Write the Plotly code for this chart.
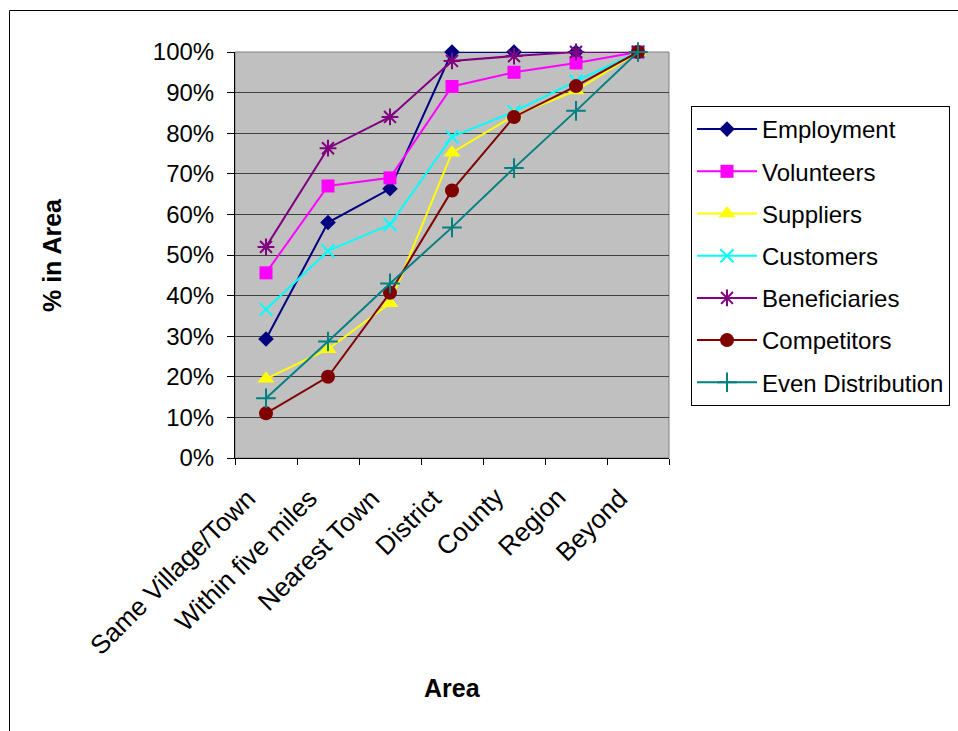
import plotly.graph_objects as go

areas = ["Same Village/Town", "Within five miles", "Nearest Town", "District",
         "County", "Region", "Beyond"]

employment = [0.293, 0.580, 0.663, 1.000, 1.000, 1.000, 1.000]
volunteers = [0.456, 0.670, 0.690, 0.915, 0.950, 0.973, 1.000]
suppliers = [0.195, 0.268, 0.381, 0.752, 0.843, 0.905, 1.000]
customers = [0.366, 0.510, 0.575, 0.791, 0.853, 0.928, 1.000]
beneficiaries = [0.520, 0.763, 0.840, 0.978, 0.990, 1.000, 1.000]
competitors = [0.110, 0.200, 0.407, 0.659, 0.840, 0.916, 1.000]
even_distribution = [0.147, 0.287, 0.430, 0.568, 0.714, 0.855, 1.000]

y_ticks = [i / 10 for i in range(11)]

series = [
    ("Employment", employment, "#000080", "diamond", 12, 0),
    ("Volunteers", volunteers, "#FF00FF", "square", 13, 0),
    ("Suppliers", suppliers, "#FFFF00", "triangle-up", 15, 0),
    ("Customers", customers, "#00FFFF", "x-thin-open", 13, 2),
    ("Beneficiaries", beneficiaries, "#800080", "asterisk-open", 14, 2),
    ("Competitors", competitors, "#800000", "circle", 14, 0),
    ("Even Distribution", even_distribution, "#008080", "cross-thin-open", 14, 2),
]

fig = go.Figure()
for name, vals, color, sym, size, lw in series:
    marker = dict(symbol=sym, size=size, color=color)
    if lw:
        marker["line"] = dict(color=color, width=lw)
    else:
        marker["line"] = dict(width=0)
    fig.add_trace(go.Scatter(
        x=areas, y=vals, name=name, mode="lines+markers",
        line=dict(color=color, width=2), marker=marker,
        cliponaxis=False, legendgroup=name,
    ))

W, H = 958, 731
L, R, T, B = 235, 289, 52, 273
pw, ph = W - L - R, H - T - B

def px(x):
    return (x - L) / pw

def py(y):
    return (H - B - y) / ph

font = "Arial, Liberation Sans, sans-serif"

annotations = [
    dict(text="<b>Area</b>", xref="paper", yref="paper", x=px(452), y=py(688),
         xanchor="center", yanchor="middle", showarrow=False,
         font=dict(family=font, size=25, color="black")),
    dict(text="<b>% in Area</b>", xref="paper", yref="paper", x=px(52), y=py(255),
         xanchor="center", yanchor="middle", showarrow=False, textangle=-90,
         font=dict(family=font, size=25, color="black")),
]
for a in areas:
    annotations.append(dict(
        text=a, xref="x", yref="paper", x=a, y=py(480), xshift=-2,
        xanchor="right", yanchor="top", showarrow=False, textangle=-45,
        font=dict(family=font, size=26, color="black"),
    ))

fig.update_layout(
    width=W, height=H,
    margin=dict(l=L, r=R, t=T, b=B, pad=0, autoexpand=False),
    paper_bgcolor="white",
    plot_bgcolor="#C0C0C0",
    font=dict(family=font, size=24, color="black"),
    showlegend=True,
    legend=dict(
        xref="container", yref="container",
        x=691 / W, y=1 - 106 / H, xanchor="left", yanchor="top",
        bordercolor="black", borderwidth=1, bgcolor="white",
        font=dict(family=font, size=24, color="black"),
        tracegroupgap=8, itemwidth=60,
    ),
    xaxis=dict(
        type="category", range=[-0.5, 6.5],
        tickson="boundaries", ticks="outside", ticklen=6, tickcolor="black",
        showline=True, linecolor="black", linewidth=1,
        showgrid=False, showticklabels=False,
    ),
    yaxis=dict(
        range=[0, 1], tickvals=y_ticks, tickformat=".0%",
        ticks="outside", ticklen=7, tickcolor="black",
        showline=True, linecolor="black", linewidth=1,
        showgrid=True, gridcolor="#404040", gridwidth=1,
        zeroline=False, ticklabelstandoff=8,
        tickfont=dict(family=font, size=24, color="black"),
    ),
    shapes=[
        dict(type="rect", xref="paper", yref="paper", x0=0, x1=1, y0=0, y1=1,
             line=dict(color="#808080", width=1), layer="below"),
        dict(type="rect", xref="paper", yref="paper",
             x0=px(9.5), x1=px(970), y0=py(740), y1=py(10.5),
             line=dict(color="black", width=1), fillcolor="rgba(0,0,0,0)"),
    ],
    annotations=annotations,
)

fig.write_html("out.html")
